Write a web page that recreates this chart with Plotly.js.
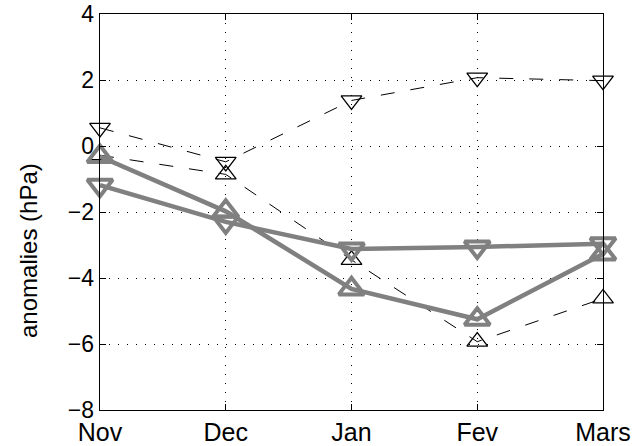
<!DOCTYPE html>
<html>
<head>
<meta charset="utf-8">
<script src="https://cdn.plot.ly/plotly-3.0.1.min.js"></script>
<style>html,body{margin:0;padding:0;background:#fff;}</style>
</head>
<body>
<div id="chart" style="width:635px;height:446px;"></div>
<script>
const months = ["Nov", "Dec", "Jan", "Fev", "Mars"];
const blackDown = [0.55, -0.48, 1.38, 2.07, 1.98];
const blackUp = [-0.28, -0.86, -3.45, -5.93, -4.62];
const grayDown = [-1.19, -2.3, -3.12, -3.06, -2.96];
const grayUp = [-0.32, -1.98, -4.33, -5.25, -3.27];
const yTicks = [-8, -6, -4, -2, 0, 2, 4];
const yTitle = "anomalies (hPa)";

const gray = "#808080";
const font = "Liberation Sans, Arial, Helvetica, sans-serif";

function blackTrace(y, sym) {
  return {
    x: months, y: y, type: "scatter", mode: "lines+markers", cliponaxis: false,
    line: {color: "#000", width: 1, dash: "14px,16px"},
    marker: {symbol: sym, size: 18, color: "#000", line: {color: "#000", width: 1.3}}
  };
}
function grayTrace(y, sym) {
  return {
    x: months, y: y, type: "scatter", mode: "lines+markers", cliponaxis: false,
    line: {color: gray, width: 4.5},
    marker: {symbol: sym, size: 22, color: gray, line: {color: gray, width: 4}}
  };
}

const data = [
  blackTrace(blackDown, "triangle-down-open"),
  blackTrace(blackUp, "triangle-up-open"),
  grayTrace(grayDown, "triangle-down-open"),
  grayTrace(grayUp, "triangle-up-open")
];

const layout = {
  width: 635, height: 446,
  margin: {l: 100, r: 32, t: 14, b: 36, pad: 0},
  paper_bgcolor: "#fff", plot_bgcolor: "#fff",
  showlegend: false,
  font: {family: font, size: 23, color: "#000"},
  xaxis: {
    type: "category", range: [0, 4], autorange: false,
    showline: true, linecolor: "#000", linewidth: 1.3, mirror: "ticks",
    ticks: "inside", ticklen: 6, tickcolor: "#000", tickwidth: 1,
    showgrid: true, gridcolor: "#000", gridwidth: 1, griddash: "1px,8px",
    zeroline: false, tickfont: {family: font, size: 25, color: "#000"}
  },
  yaxis: {
    range: [-8, 4], autorange: false,
    tickvals: yTicks,
    showline: true, linecolor: "#000", linewidth: 1.3, mirror: "ticks",
    ticks: "inside", ticklen: 6, tickcolor: "#000", tickwidth: 1,
    showgrid: true, gridcolor: "#000", gridwidth: 1, griddash: "1px,8px",
    zeroline: false, tickfont: {family: font, size: 23, color: "#000"}
  },
  annotations: [{
    text: yTitle, textangle: -90, showarrow: false,
    xref: "paper", yref: "paper",
    x: (28 - 100) / 503, y: (410 - 251) / 396,
    xanchor: "center", yanchor: "middle",
    font: {family: font, size: 24, color: "#000"}
  }]
};

Plotly.newPlot("chart", data, layout, {staticPlot: true, displayModeBar: false});
</script>
</body>
</html>
